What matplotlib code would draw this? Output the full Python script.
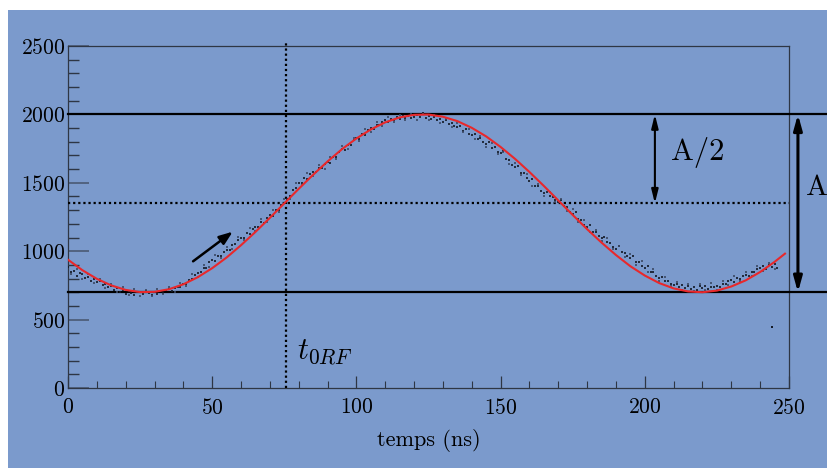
import matplotlib
matplotlib.use("Agg")
import matplotlib.pyplot as plt
from matplotlib.patches import Rectangle
import numpy as np

plt.rcParams["font.family"] = ["cmr10", "DejaVu Serif"]
plt.rcParams["mathtext.fontset"] = "cm"
plt.rcParams["axes.formatter.use_mathtext"] = True

signal = [
    885, 850, 855, 822, 840, 830, 805, 815, 780, 795,
    772, 785, 750, 760, 738, 745, 718, 730, 705, 715,
    690, 712, 695, 683, 705, 700, 685, 708, 692, 680,
    705, 690, 712, 698, 715, 722, 712, 730, 741, 735,
    760, 758, 790, 795, 825, 842, 845, 880, 880, 918,
    935, 932, 968, 965, 995, 1012, 1010, 1045, 1050, 1082,
    1100, 1095, 1132, 1128, 1160, 1178, 1175, 1210, 1208, 1245,
    1262, 1260, 1298, 1300, 1335, 1350, 1385, 1400, 1445, 1465,
    1500, 1495, 1535, 1530, 1565, 1582, 1578, 1610, 1605, 1638,
    1650, 1648, 1690, 1688, 1728, 1745, 1742, 1778, 1775, 1810,
    1825, 1820, 1856, 1852, 1885, 1898, 1895, 1925, 1920, 1948,
    1958, 1945, 1970, 1960, 1980, 1968, 1985, 1975, 1990, 1972,
    1978, 1992, 1980, 2010, 1975, 1990, 1970, 1980, 1958, 1968,
    1948, 1960, 1930, 1940, 1915, 1905, 1915, 1880, 1890, 1860,
    1848, 1860, 1820, 1828, 1795, 1782, 1795, 1755, 1760, 1728,
    1715, 1730, 1675, 1670, 1632, 1612, 1625, 1575, 1570, 1532,
    1515, 1528, 1480, 1475, 1440, 1425, 1435, 1400, 1398, 1375,
    1362, 1375, 1330, 1325, 1290, 1272, 1285, 1235, 1228, 1192,
    1175, 1188, 1142, 1140, 1108, 1095, 1105, 1065, 1062, 1032,
    1018, 1035, 992, 990, 962, 948, 962, 920, 918, 892,
    878, 895, 850, 845, 818, 805, 815, 782, 785, 760,
    750, 762, 740, 752, 728, 742, 725, 738, 720, 745,
    730, 748, 722, 740, 735, 745, 738, 762, 758, 780,
    790, 778, 805, 800, 820, 828, 822, 850, 845, 872,
    880, 895, 870, 900, 885, 905, 880,
]
signal_t = list(range(len(signal)))

# second pass of samples, every 2 ns starting at 1 ns
signal_b = [
    835, 872, 800, 835, 765, 800, 728, 762, 700, 735,
    680, 722, 672, 718, 675, 722, 684, 735, 705, 770,
    745, 830, 808, 900, 885, 972, 948, 1032, 1015, 1105,
    1082, 1168, 1145, 1232, 1212, 1302, 1288, 1378, 1385, 1495,
    1482, 1572, 1548, 1632, 1602, 1692, 1675, 1768, 1745, 1830,
    1808, 1890, 1870, 1942, 1918, 1978, 1945, 1998, 1958, 2002,
    1962, 2004, 1962, 1995, 1938, 1970, 1908, 1940, 1868, 1892,
    1818, 1842, 1765, 1788, 1710, 1728, 1638, 1648, 1555, 1565,
    1478, 1492, 1405, 1432, 1358, 1378, 1292, 1305, 1215, 1225,
    1140, 1158, 1075, 1095, 1015, 1038, 958, 982, 902, 925,
    845, 868, 785, 815, 745, 778, 720, 762, 712, 760,
    715, 765, 718, 785, 752, 818, 782, 848, 818, 890,
    855, 912, 868,
]
signal_b_t = list(range(1, 2 * len(signal_b), 2))

outlier_t = [244]
outlier_v = [445]

# fitted sine, sampled every 5 ns
fit_t = [0, 5, 10, 15, 20, 25, 30, 35, 40, 45, 50, 55, 60, 65, 70, 75, 80,
         85, 90, 95, 100, 105, 110, 115, 120, 125, 130, 135, 140, 145, 150,
         155, 160, 165, 170, 175, 180, 185, 190, 195, 200, 205, 210, 215,
         220, 225, 230, 235, 240, 245, 248.6]
fit_v = [938, 861, 798, 750, 717, 701, 703, 722, 758, 810, 876, 954, 1044,
         1141, 1244, 1350, 1456, 1559, 1656, 1746, 1824, 1890, 1942, 1978,
         1997, 1999, 1983, 1951, 1902, 1839, 1762, 1675, 1579, 1477, 1371,
         1265, 1161, 1063, 972, 890, 822, 767, 728, 706, 700, 712, 742, 787,
         848, 922, 982]

v_max = 2000
v_min = 700
v_mid = 1350
t0_rf = 75.6

blue = "#7b9acc"

fig = plt.figure(figsize=(8.27, 4.68), dpi=100)
fig.patch.set_facecolor("white")
fig.patches.append(Rectangle((8 / 827, 0), 1, 1 - 10 / 468, transform=fig.transFigure,
                             facecolor=blue, edgecolor="none", zorder=-10))

ax = fig.add_axes([68 / 827, 1 - 388 / 468, (789 - 68) / 827, (388 - 46) / 468])
ax.set_facecolor("none")
ax.set_xlim(0, 250)
ax.set_ylim(0, 2500)

spine_col = "#2e3644"
for s in ax.spines.values():
    s.set_color(spine_col)
    s.set_linewidth(0.9)

ax.set_xticks([0, 50, 100, 150, 200, 250])
ax.set_xticks(np.arange(0, 251, 10), minor=True)
ax.set_yticks([0, 500, 1000, 1500, 2000, 2500])
ax.set_yticks(np.arange(0, 2501, 100), minor=True)
ax.tick_params(axis="x", which="major", direction="in", length=9, width=0.9,
               color=spine_col, labelsize=15.5, pad=7)
ax.tick_params(axis="x", which="minor", direction="in", length=5, width=0.8,
               color=spine_col)
ax.tick_params(axis="y", which="major", direction="in", length=15, width=1.2,
               color="#4a5a74", labelsize=15.5, pad=2)
ax.tick_params(axis="y", which="minor", direction="in", length=8, width=1.0,
               color="#2e3644")
ax.set_xlabel("temps (ns)", fontsize=16, labelpad=8)

# reference lines
ax.plot([0, 265], [v_max, v_max], color="black", lw=1.6, clip_on=False, zorder=3)
ax.plot([0, 265], [v_min, v_min], color="black", lw=1.6, clip_on=False, zorder=3)
ax.plot([0, 250], [v_mid, v_mid], color="black", lw=1.6, ls=(0, (1, 1.3)), zorder=3)
ax.plot([t0_rf, t0_rf], [0, 2530], color="black", lw=1.6, ls=(0, (1, 1.3)),
        clip_on=False, zorder=3)

# data + fit
ax.plot(signal_t, signal, ls="none", marker="s", ms=1.5, mew=0,
        color="#141a26", alpha=0.85, zorder=4)
ax.plot(signal_b_t, signal_b, ls="none", marker="s", ms=1.5, mew=0,
        color="#3c4a66", alpha=0.85, zorder=4)
ax.plot(outlier_t, outlier_v, ls="none", marker="s", ms=1.5, mew=0,
        color="#141a26", zorder=4)
ax.plot(fit_t, fit_v, color="#e8282b", lw=1.5, zorder=5)

# annotations
ax.annotate("", xy=(57.9, 1155), xytext=(42.6, 914),
            arrowprops=dict(arrowstyle="-|>,head_length=0.8,head_width=0.3",
                            color="black", lw=1.8))
ax.annotate("", xy=(203.5, v_max), xytext=(203.5, v_mid),
            arrowprops=dict(arrowstyle="<|-|>,head_length=0.8,head_width=0.2",
                            color="black", lw=1.5, shrinkA=0, shrinkB=0))
ax.text(209, 1720, "A/2", fontsize=22, va="center", ha="left")
ax.annotate("", xy=(253.1, v_max), xytext=(253.1, v_min),
            arrowprops=dict(arrowstyle="<|-|>,head_length=0.9,head_width=0.25",
                            color="black", lw=2.2, shrinkA=0, shrinkB=0),
            annotation_clip=False)
ax.text(256.0, 1460, "A", fontsize=21, va="center", ha="left", clip_on=False)
ax.text(79.5, 262, r"$t_{0RF}$", fontsize=22, va="center", ha="left")

fig.savefig("out.png", dpi=100, facecolor=fig.get_facecolor())
